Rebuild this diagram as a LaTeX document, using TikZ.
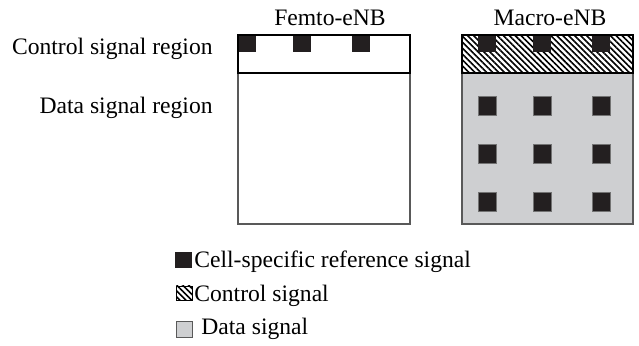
\documentclass[tikz,border=0pt]{standalone}
\usepackage{fontspec}
\setmainfont{Liberation Serif}
\usetikzlibrary{patterns.meta}
\definecolor{datagray}{RGB}{206,207,209}
\definecolor{rsblack}{RGB}{35,31,32}
\tikzset{
  rsq/.style={fill=rsblack},
  frame/.style={draw=black!65, line width=0.9pt},
  ctrlframe/.style={draw=black, line width=1.3pt},
  hatch/.style={pattern={Lines[angle=-45,distance=2.1pt,line width=0.8pt]}},
  lbl/.style={inner sep=0pt, font=\fontsize{11.8}{14}\selectfont},
}
\begin{document}
\begin{tikzpicture}[x=0.5pt,y=-0.5pt]
    \useasboundingbox (0,0) rectangle (639,346);

    % Titles of the two cells
    \node[lbl, anchor=base] (femto) at (330,26) {Femto-eNB};
    \node[lbl, anchor=base] (macro) at (550,26) {Macro-eNB};

    % Region names on the left
    \node[lbl, anchor=base east] (ctrlreg) at (213,55) {Control signal region};
    \node[lbl, anchor=base east] (datareg) at (213,114) {Data signal region};

    % Femto-eNB: empty data region, reference signal only in control region
    \draw[frame, fill=white] (238,73) rectangle (410,224);
    \foreach \x in {238,293,352}
        \fill[rsq] (\x,35) rectangle ++(18,17);
    \draw[ctrlframe] (238,35) rectangle (410,73);

    % Macro-eNB: grey data region with a 3x3 grid of reference signals
    \draw[frame, fill=datagray] (462,73) rectangle (633,224);
    \fill[white] (462,35) rectangle (633,73);
    \fill[hatch] (462,35) rectangle (633,73);
    \foreach \x in {478,533,592} {
        \fill[rsq] (\x,35) rectangle ++(18,17);
        \foreach \y in {96,144,192}
            \draw[rsq, draw=black!55, line width=0.3pt] (\x,\y) rectangle ++(18,19);
    }
    \draw[ctrlframe] (462,35) rectangle (633,73);

    % Legend
    \fill[rsq] (175,252) rectangle (192,268);
    \node[lbl, anchor=base west] (rsleg) at (194,268) {Cell-specific reference signal};
    \draw[hatch, draw=black, line width=0.4pt] (176,286) rectangle (192,300);
    \node[lbl, anchor=base west] (ctrlleg) at (194,302) {Control signal};
    \draw[fill=datagray, draw=black!65, line width=0.5pt] (176,322) rectangle (192,338);
    \node[lbl, anchor=base west] (dataleg) at (201,335) {Data signal};
\end{tikzpicture}
\end{document}
